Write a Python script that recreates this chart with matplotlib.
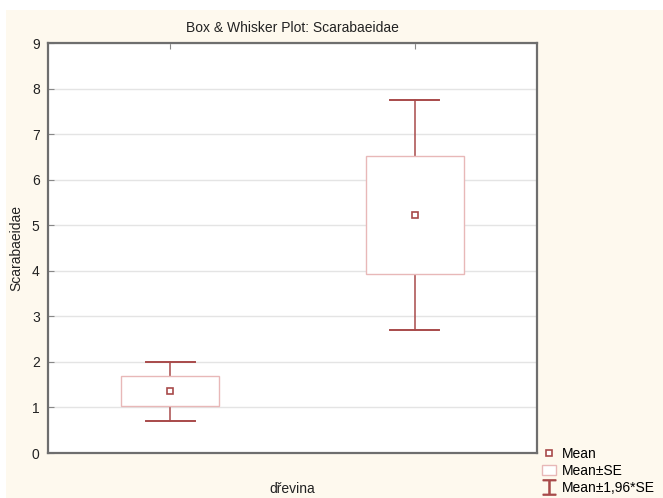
import matplotlib
matplotlib.use("Agg")
import matplotlib.pyplot as plt
from matplotlib.patches import Rectangle
from matplotlib.lines import Line2D
import numpy as np

# Group summaries for Scarabaeidae by tree species (dřevina)
groups = ["", ""]
means = [1.36, 5.22]
se = [0.33, 1.29]
yticks = [0, 1, 2, 3, 4, 5, 6, 7, 8, 9]

box_edge = "#e8b8b8"
whisk_col = "#a84a4a"
cream = "#fef9ee"

fig = plt.figure(figsize=(6.63, 4.98), dpi=100)
fig.patch.set_facecolor("white")
fig.add_artist(Rectangle((6 / 663, 0), 1, 1 - 10 / 498, transform=fig.transFigure,
                         facecolor=cream, edgecolor="none", zorder=-10))

ax = fig.add_axes([48 / 663, 45 / 498, (537 - 48) / 663, (453 - 43) / 498])
ax.set_facecolor("white")

pos = np.arange(1, len(means) + 1)
for x, m, s in zip(pos, means, se):
    lo2, hi2 = m - 1.96 * s, m + 1.96 * s
    # whisker stems and caps (Mean ± 1.96*SE)
    ax.plot([x, x], [m + s, hi2], color=whisk_col, lw=1.1, zorder=3)
    ax.plot([x, x], [lo2, m - s], color=whisk_col, lw=1.1, zorder=3)
    ax.plot([x - 0.1, x + 0.1], [hi2, hi2], color=whisk_col, lw=1.4, zorder=3)
    ax.plot([x - 0.1, x + 0.1], [lo2, lo2], color=whisk_col, lw=1.4, zorder=3)
    # Mean ± SE box
    ax.add_patch(Rectangle((x - 0.2, m - s), 0.4, 2 * s, facecolor="white",
                           edgecolor=box_edge, lw=1.0, zorder=3))
    # mean marker
    ax.plot([x], [m], marker="s", ms=5, mfc="white", mec=whisk_col, mew=1.2, zorder=4)

ax.set_xlim(0.5, 2.5)
ax.set_ylim(0, 9)
ax.set_yticks(yticks)
ax.set_xticks(pos)
ax.set_xticklabels(groups)
ax.yaxis.grid(True, color="#e4e4e4", lw=1.0)
ax.set_axisbelow(True)
ax.tick_params(axis="y", direction="in", length=4, color="#888888", labelsize=10,
               labelcolor="#222222", pad=6)
ax.tick_params(axis="x", direction="in", length=4, color="#888888",
               bottom=False, top=True, labelbottom=False)
for sp in ax.spines.values():
    sp.set_color("#6e6e6e")
    sp.set_linewidth(1.6)

ax.set_title("Box & Whisker Plot: Scarabaeidae", fontsize=10, color="#222222", pad=8,
             fontfamily="Liberation Sans")
ax.set_ylabel("Scarabaeidae", fontsize=10, color="#222222", fontfamily="Liberation Sans",
              labelpad=6)
ax.set_xlabel("dřevina", fontsize=10, color="#222222", fontfamily="Liberation Sans",
              labelpad=21)
for lab in ax.get_yticklabels():
    lab.set_fontfamily("Liberation Sans")

handles = [
    Line2D([], [], ls="none", marker="s", ms=4.5, mfc="white", mec=whisk_col, mew=1.2),
    Rectangle((0, 0), 1, 1, facecolor="white", edgecolor=box_edge, lw=1.0),
    Line2D([], [], ls="none", marker="$\u2336$", ms=11, color=whisk_col),
]
leg = fig.legend(handles, ["Mean", "Mean\u00b1SE", "Mean\u00b11,96*SE"],
                 loc="lower left", bbox_to_anchor=(539 / 663, 0.0),
                 borderaxespad=0.0, borderpad=0.25,
                 frameon=False, handlelength=1.0, handletextpad=0.4,
                 labelspacing=0.2, prop={"family": "Liberation Sans", "size": 10})

fig.savefig("out.png", dpi=100, facecolor=fig.get_facecolor())
